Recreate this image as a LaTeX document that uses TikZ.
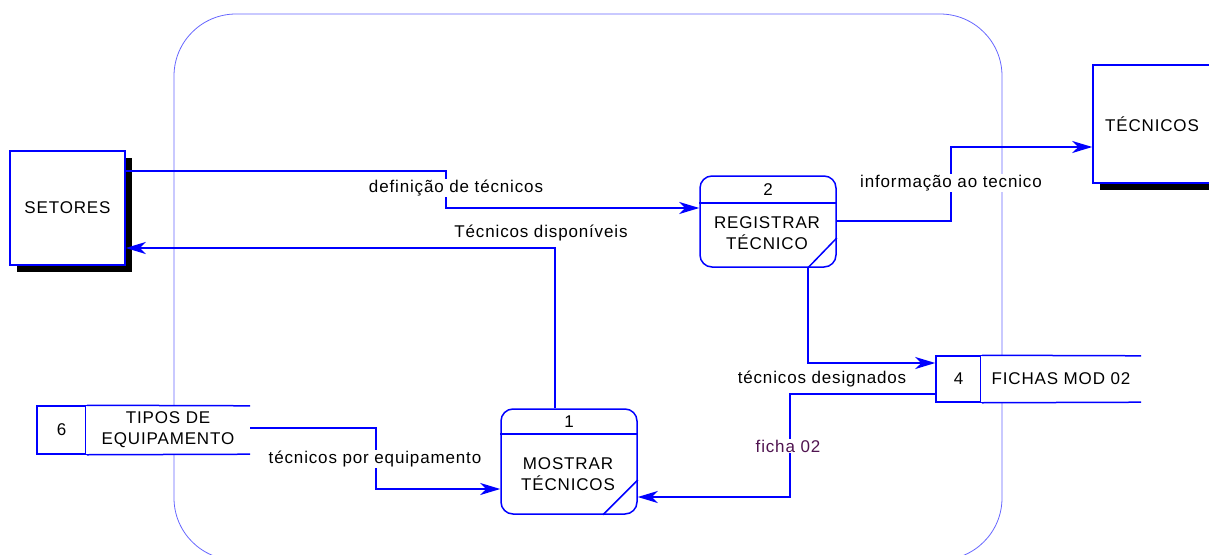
\documentclass[tikz,border=0pt]{standalone}
\usepackage{fontspec}
\setmainfont[LetterSpace=5]{Liberation Sans}
\usetikzlibrary{arrows.meta,shadows}
\definecolor{fichatext}{RGB}{80,20,80}

\begin{document}
\begin{tikzpicture}[x=1pt, y=-1pt, font=\fontsize{17}{21}\selectfont,
    entity/.style={rectangle, draw=blue, line width=1.5pt, fill=white, minimum width=115pt, minimum height=114pt,
        drop shadow={shadow xshift=7pt, shadow yshift=-7pt, fill=black, opacity=1}},
    proc/.style={rectangle, rounded corners=12pt, draw=blue, line width=1.5pt, fill=white, minimum width=136pt},
    cell/.style={rectangle, draw=blue, line width=1.5pt, fill=white},
    body/.style={rectangle, fill=white, align=center, inner sep=0pt},
    txt/.style={align=center, inner sep=0pt},
    edge/.style={draw=blue, line width=1.5pt},
    flow/.style={draw=blue, line width=1.5pt, -{Stealth[length=20pt, width=12pt, inset=6pt]}},
    boundary/.style={draw=blue!60, line width=0.8pt, rounded corners=62pt},
    lbl/.style={fill=white, inner sep=1pt}]
    \useasboundingbox (0,0) rectangle (1209,554);
    \draw [boundary] (174,14) rectangle (1002,560);

    \node [entity](setores) at (67.5,208) {SETORES};
    \node [entity, minimum width=118pt, minimum height=118pt](tecnicos) at (1152,124) {TÉCNICOS};

    \node [proc, minimum height=91pt](p2) at (768,221.5) {};
    \node (n2) at (768,190) {2};
    \node [txt](t2) at (767,233) {REGISTRAR\\TÉCNICO};
    \draw [edge] (p2.west |- 0,203) -- (p2.east |- 0,203);
    \draw [edge] (p2.east |- 0,238) -- (808,0 |- p2.south);

    \node [proc, minimum height=105pt](p1) at (569,461.5) {};
    \node (n1) at (569,422) {1};
    \node [txt](t1) at (568,474) {MOSTRAR\\TÉCNICOS};
    \draw [edge] (p1.west |- 0,434) -- (p1.east |- 0,434);
    \draw [edge] (p1.east |- 0,480) -- (603,0 |- p1.south);

    \node [cell, minimum width=49pt, minimum height=48pt](d6) at (61.5,430) {6};
    \node [body, minimum width=164pt, minimum height=48pt](d6body) at (168,430) {TIPOS DE\\EQUIPAMENTO};
    \draw [edge] (d6.north east) -- (d6body.north east);
    \draw [edge] (d6.south east) -- (d6body.south east);

    \node [cell, minimum width=45pt, minimum height=46pt](d4) at (958.5,379) {4};
    \node [body, minimum width=160pt, minimum height=46pt](d4body) at (1061,379) {FICHAS MOD 02};
    \draw [edge] (d4.north east) -- (d4body.north east);
    \draw [edge] (d4.south east) -- (d4body.south east);

    \draw [flow] (setores.east |- 0,171) -- (446,171) -- (446,208) -- (p2.west |- 0,208);
    \draw [flow] (555,0 |- p1.north) -- (555,248) -- (setores.east |- 0,248);
    \draw [flow] (p2.east |- 0,221) -- (951,221) -- (951,147) -- (tecnicos.west |- 0,147);
    \draw [flow] (808,0 |- p2.south) -- (808,363) -- (d4.west |- 0,363);
    \draw [flow] (d4.west |- 0,394) -- (790,394) -- (790,497) -- (p1.east |- 0,497);
    \draw [flow] (d6body.east |- 0,428) -- (376,428) -- (376,489) -- (p1.west |- 0,489);

    \node [lbl](l1) at (456,188) {definição de técnicos};
    \node [lbl](l2) at (541,233) {Técnicos disponíveis};
    \node [lbl](l3) at (951,183) {informação ao tecnico};
    \node [lbl](l4) at (822,379) {técnicos designados};
    \node [lbl, text=fichatext](l5) at (788,446) {ficha 02};
    \node [lbl](l6) at (375,459) {técnicos por equipamento};
\end{tikzpicture}
\end{document}
